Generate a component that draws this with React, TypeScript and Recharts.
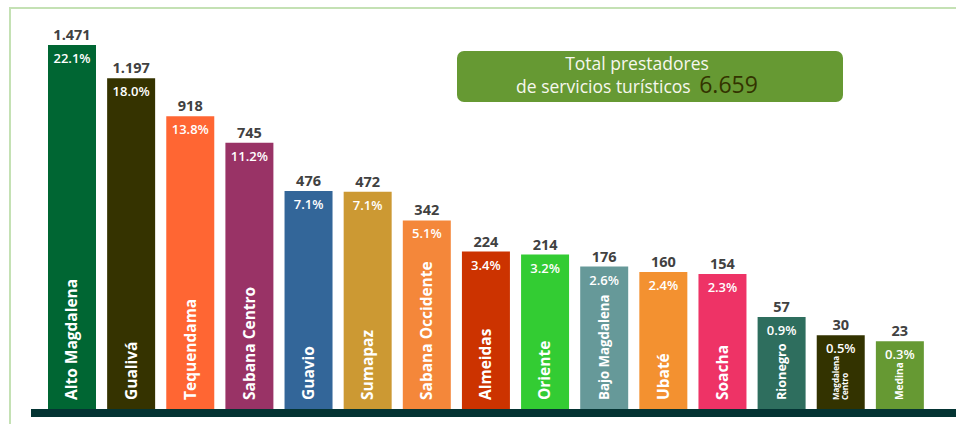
import { BarChart, Bar, XAxis, YAxis, Cell, LabelList } from 'recharts'

// Prestadores de servicios turísticos por provincia
const provincias = [
  'Alto Magdalena', 'Gualivá', 'Tequendama', 'Sabana Centro', 'Guavio', 'Sumapaz',
  'Sabana Occidente', 'Almeidas', 'Oriente', 'Bajo Magdalena', 'Ubaté', 'Soacha',
  'Rionegro', 'Magdalena Centro', 'Medina',
]
const prestadores = [1471, 1197, 918, 745, 476, 472, 342, 224, 214, 176, 160, 154, 57, 30, 23]
const participacion = [22.1, 18.0, 13.8, 11.2, 7.1, 7.1, 5.1, 3.4, 3.2, 2.6, 2.4, 2.3, 0.9, 0.5, 0.3]
const colores = [
  '#006633', '#353300', '#ff6633', '#993366', '#336699', '#cc9933', '#f4873a', '#cc3300',
  '#33cc33', '#669999', '#f39130', '#ee3366', '#2e6e5e', '#333300', '#669933',
]
const totalPrestadores = 6659

// la infografía no es lineal: escala raíz con un piso bajo cero
const piso = -11
const datos = provincias.map((provincia, i) => ({
  provincia,
  rango: [piso, prestadores[i]],
}))

const miles = (n: number) => String(n).replace(/\B(?=(\d{3})+(?!\d))/g, '.')

const FUENTE = '"Open Sans", "DejaVu Sans", sans-serif'

function ValorLabel(props: any) {
  const { x, y, width, index } = props
  return (
    <text x={x + width / 2} y={y - 5} textAnchor="middle" fontSize={14.5} fontWeight={700}
      fill="#414141" fontFamily={FUENTE}>
      {miles(prestadores[index])}
    </text>
  )
}

function PctLabel(props: any) {
  const { x, y, width, index } = props
  return (
    <text x={x + width / 2} y={y + 18} textAnchor="middle" fontSize={13} fontWeight={600}
      fill="#ffffff" fontFamily={FUENTE}>
      {participacion[index].toFixed(1) + '%'}
    </text>
  )
}

// el nombre va girado desde la base; se achica si no cabe bajo el porcentaje
function NombreLabel(props: any) {
  const { x, y, width, height, index } = props
  const nombre = provincias[index]
  const cx = x + width / 2
  const y0 = y + height - 13
  const libre = y0 - (y + 22)
  let lineas = [nombre]
  let fs = Math.min(15.5, libre / (nombre.length * 0.6))
  if (fs < 10 && nombre.includes(' ')) {
    lineas = nombre.split(' ')
    const largo = Math.max(...lineas.map((l) => l.length))
    fs = Math.min(10, libre / (largo * 0.6))
  }
  fs = Math.max(fs, 8)
  return (
    <text x={cx} y={y0} transform={`rotate(-90, ${cx}, ${y0})`} textAnchor="start"
      fontSize={fs} fontWeight={700} fill="#ffffff" fontFamily={FUENTE}>
      {lineas.map((l, i) => (
        <tspan key={l} x={cx} dy={i === 0 ? (lineas.length > 1 ? '-0.25em' : '0.35em') : '1.2em'}>{l}</tspan>
      ))}
    </text>
  )
}

export default function App() {
  return (
    <div style={{ position: 'relative', width: 956, height: 424, overflow: 'hidden', background: '#fff' }}>
      <style>{'body{margin:0}'}</style>

      {/* marco */}
      <div style={{
        position: 'absolute', left: 9, top: 7, width: 980, height: 440,
        borderLeft: '2px solid #c4e1b4', borderTop: '2px solid #c4e1b4',
      }} />

      <div style={{ position: 'absolute', left: 0, top: 0 }}>
        <BarChart width={956} height={424} data={datos} margin={{ top: 45, right: 0, left: 31, bottom: 0 }}>
          <XAxis dataKey="provincia" padding={{ left: 11, right: 27 }} height={11} tick={false}
            tickLine={false} axisLine={{ stroke: '#043433', strokeWidth: 8 }} />
          <YAxis hide type="number" scale="sqrt" domain={[piso, Math.max(...prestadores)]} allowDataOverflow />
          <Bar dataKey="rango" barSize={48} isAnimationActive={false}>
            {datos.map((d, i) => (
              <Cell key={d.provincia} fill={colores[i]} />
            ))}
            <LabelList dataKey="provincia" content={ValorLabel} />
            <LabelList dataKey="provincia" content={PctLabel} />
            <LabelList dataKey="provincia" content={NombreLabel} />
          </Bar>
        </BarChart>
      </div>

      {/* recuadro del total */}
      <div style={{
        position: 'absolute', left: 457, top: 51, width: 386, height: 51, boxSizing: 'border-box',
        background: '#669933', borderRadius: 7, paddingRight: 26, textAlign: 'center',
        fontFamily: FUENTE, fontWeight: 500, color: '#f7f7ee', fontSize: 17.5, lineHeight: '21px', paddingTop: 2,
      }}>
        <div>Total prestadores</div>
        <div>
          de servicios turísticos{' '}
          <span style={{ color: '#333300', fontSize: 23, marginLeft: 4 }}>{miles(totalPrestadores)}</span>
        </div>
      </div>
    </div>
  )
}
